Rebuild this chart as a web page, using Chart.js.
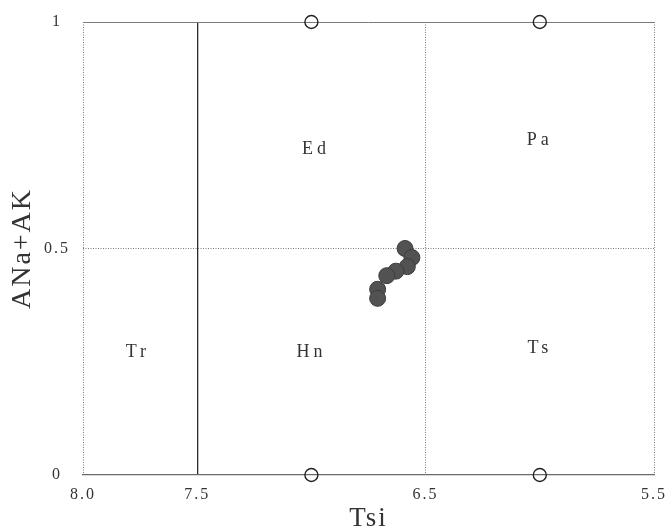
<!DOCTYPE html>
<html>
<head>
<meta charset="utf-8">
<script src="https://cdn.jsdelivr.net/npm/chart.js@4.4.1/dist/chart.umd.min.js"></script>
<style>
    html, body { margin: 0; padding: 0; background: #fff; }
</style>
</head>
<body>
<canvas id="myChart" width="665" height="532"></canvas>
<script>
// Axis ticks
const tsiTicks = [8.0, 7.5, 6.5, 5.5];
const nakTicks = [0, 0.5, 1];
const nakTickLabels = ['0', '0.5', '1'];

// Analysed samples (filled dots)
const sampleTsi = [6.59, 6.56, 6.58, 6.63, 6.67, 6.71, 6.71];
const sampleNaK = [0.50, 0.48, 0.46, 0.45, 0.44, 0.41, 0.39];

// Open circles sitting on the frame
const markTsi = [7.0, 6.0, 7.0, 6.0];
const markNaK = [1, 1, 0, 0];

// Field names and where they sit
const fieldNames = ['Tr', 'Hn', 'Ts', 'Ed', 'Pa'];
const fieldTsi = [7.76, 7.0, 6.0, 6.98, 6.0];
const fieldNaK = [0.27, 0.27, 0.28, 0.72, 0.74];

const serif = "'Liberation Serif', 'DejaVu Serif', serif";

// spaced-out lettering like the scanned figure
const spacing = {
    id: 'spacing',
    beforeUpdate(chart) { chart.ctx.letterSpacing = '2px'; },
    beforeDraw(chart) { chart.ctx.letterSpacing = '2px'; }
};

// field names inside the diagram
const fieldLabels = {
    id: 'fieldLabels',
    beforeDatasetsDraw(chart) {
        const {ctx, scales: {x, y}} = chart;
        ctx.save();
        ctx.letterSpacing = '4px';
        ctx.font = '18px ' + serif;
        ctx.fillStyle = '#333';
        ctx.textAlign = 'center';
        ctx.textBaseline = 'middle';
        fieldNames.forEach((name, i) => {
            ctx.fillText(name, x.getPixelForValue(fieldTsi[i]), y.getPixelForValue(fieldNaK[i]));
        });
        ctx.restore();
    }
};

const isTick = (c, v) => c.tick && c.tick.value === v;

const myChart = new Chart(
    document.getElementById('myChart'),
    {
        type: 'scatter',
        data: {
            datasets: [
                {
                    label: 'frame',
                    data: markTsi.map((v, i) => ({x: v, y: markNaK[i]})),
                    pointRadius: 6.5,
                    pointBorderWidth: 1.4,
                    pointBorderColor: '#222',
                    pointBackgroundColor: 'rgba(255,255,255,0)',
                    clip: false
                },
                {
                    label: 'samples',
                    data: sampleTsi.map((v, i) => ({x: v, y: sampleNaK[i]})),
                    pointRadius: 8,
                    pointBorderWidth: 1,
                    pointBorderColor: '#3c3c3c',
                    pointBackgroundColor: '#525252',
                    clip: false
                }
            ]
        },
        options: {
            responsive: false,
            animation: false,
            devicePixelRatio: 1,
            layout: {padding: {top: 22, right: 11, left: 0, bottom: 0}},
            plugins: {
                legend: {display: false},
                tooltip: {enabled: false}
            },
            scales: {
                x: {
                    type: 'linear',
                    reverse: true,
                    min: 5.5,
                    max: 8.0,
                    afterBuildTicks: s => { s.ticks = tsiTicks.map(v => ({value: v})); },
                    afterFit: s => {
                        s.height = 57;
                        s.paddingLeft = 0;
                        s.paddingRight = 0;
                    },
                    ticks: {
                        autoSkip: false,
                        maxRotation: 0,
                        padding: 10,
                        color: '#333',
                        font: {family: serif, size: 16},
                        callback: v => v.toFixed(1)
                    },
                    grid: {
                        drawTicks: false,
                        color: c => isTick(c, 7.5) ? '#2a2a2a' : '#7a7a7a',
                        lineWidth: c => isTick(c, 7.5) ? 1.3 : 1
                    },
                    border: {
                        display: true,
                        color: '#6a6a6a',
                        width: 1.2,
                        dash: c => isTick(c, 7.5) ? [] : [1, 1.5]
                    },
                    title: {
                        display: true,
                        text: 'Tsi',
                        color: '#333',
                        font: {family: serif, size: 27, lineHeight: 1},
                        padding: {top: 0, bottom: 0}
                    }
                },
                y: {
                    type: 'linear',
                    min: 0,
                    max: 1,
                    afterBuildTicks: s => { s.ticks = nakTicks.map(v => ({value: v})); },
                    afterFit: s => {
                        s.width = 83;
                        s.paddingTop = 0;
                        s.paddingBottom = 0;
                    },
                    ticks: {
                        padding: 13,
                        crossAlign: 'center',
                        color: '#333',
                        font: {family: serif, size: 16},
                        callback: (v, i) => nakTickLabels[i]
                    },
                    grid: {
                        drawTicks: false,
                        color: c => isTick(c, 0) ? 'rgba(0,0,0,0)' : '#7a7a7a',
                        lineWidth: 1
                    },
                    border: {
                        display: false,
                        dash: c => isTick(c, 1) ? [] : [1, 1.5]
                    },
                    title: {
                        display: true,
                        text: 'ANa+AK',
                        color: '#333',
                        font: {family: serif, size: 28, lineHeight: 1},
                        padding: {top: 9, bottom: 0}
                    }
                }
            }
        },
        plugins: [spacing, fieldLabels]
    }
);
</script>
</body>
</html>
